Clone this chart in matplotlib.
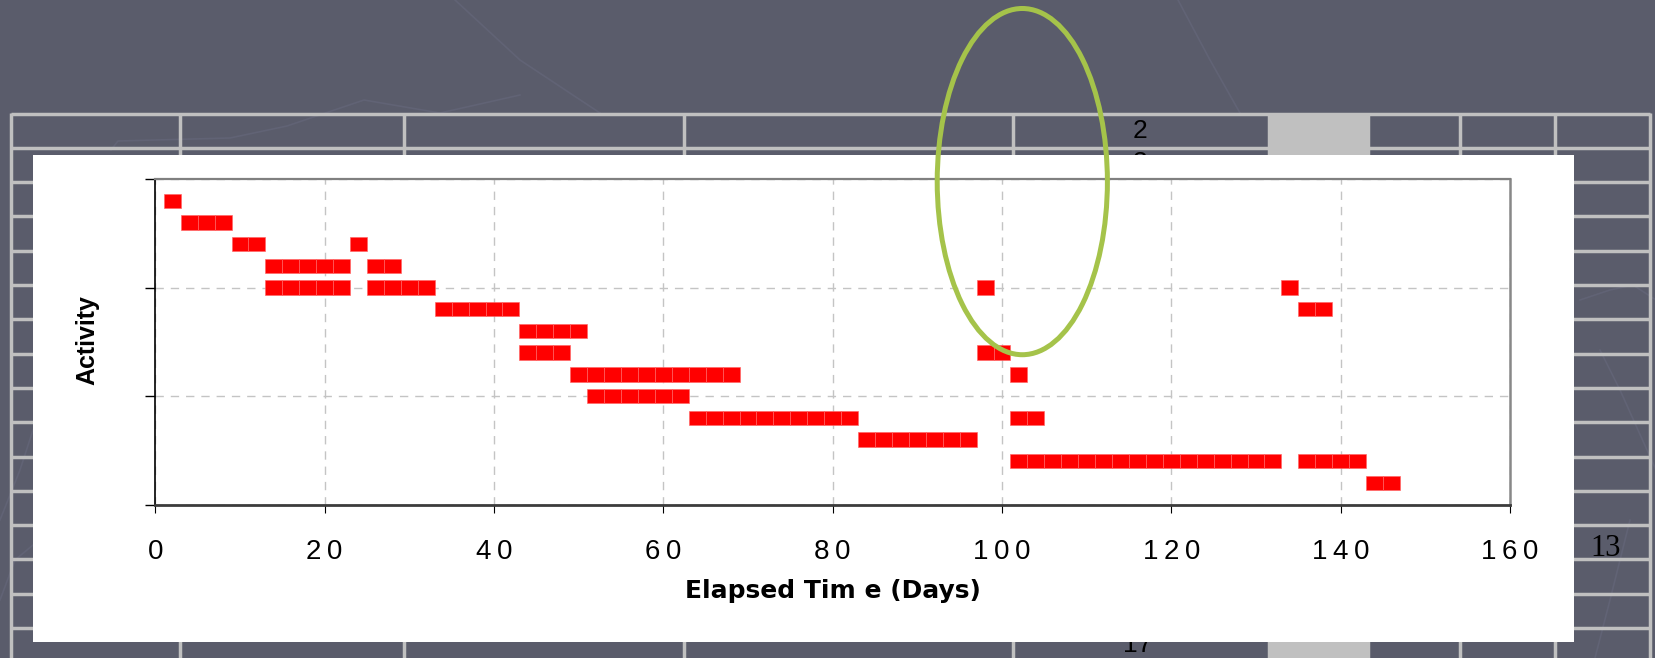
import matplotlib
matplotlib.use("Agg")
import matplotlib.pyplot as plt
from matplotlib.patches import Rectangle, Ellipse

# ---- schedule: one entry per bar (activity number, start day, finish day) ----
activity = [1, 2, 3, 3, 4, 4, 5, 5, 5, 5, 6, 6, 7, 8, 8, 9, 9, 10, 11, 11, 12, 13, 13, 14]
start_day = [1, 3, 9, 23, 13, 25, 13, 25, 97, 133, 33, 135, 43, 43, 97, 49, 101, 51, 63, 101, 83, 101, 135, 143]
finish_day = [3, 9, 13, 25, 23, 29, 23, 33, 99, 135, 43, 139, 51, 49, 101, 69, 103, 63, 83, 105, 97, 133, 143, 147]

x_ticks = [0, 20, 40, 60, 80, 100, 120, 140, 160]
x_tick_labels = ["0", "20", "40", "60", "80", "100", "120", "140", "160"]
y_ticks = [0, 5, 10, 15]

x_label = "Elapsed Tim e (Days)"
y_label = "Activity"

# highlighted region (days, activity units)
highlight_center = (102.4, 0.12)
highlight_size = (20.1, 15.95)

# ---- styling ----
W, H = 1656, 658
SLATE = "#5a5c6b"
TABLE_GRAY = "#c0c0c0"
RED = "#ff0000"
GREEN = "#a5c34a"
SEGMENT = 2  # bars are drawn in two-day blocks
THIN = "\u2009"

fig = plt.figure(figsize=(W / 100, H / 100), dpi=100, facecolor=SLATE)

# slide backdrop in pixel units
bg = fig.add_axes([0, 0, 1, 1], zorder=0)
bg.set_xlim(0, W)
bg.set_ylim(H, 0)
bg.axis("off")

# faint template swirls
swirl_color = "#616375"
swirls = [
    ([111, 118, 230, 287, 364, 440, 520], [150, 141, 138, 126, 100, 113, 95]),
    ([455, 520, 600], [0, 60, 113]),
    ([1178, 1210, 1240], [0, 60, 113]),
    ([1580, 1610, 1633, 1656], [300, 290, 285, 300]),
    ([1600, 1620, 1656], [350, 390, 470]),
    ([1595, 1610, 1630], [658, 600, 520]),
    ([0, 20, 33], [520, 470, 430]),
    ([0, 15, 33], [600, 560, 545]),
]
for sx, sy in swirls:
    bg.plot(sx, sy, color=swirl_color, lw=1.2, zorder=0.5)

# spreadsheet grid behind the chart
col_x = [10.7, 180, 404, 684, 1013, 1269, 1368, 1460, 1555, 1650]
row_top = 113.5
row_h = 34.3
row_y = [row_top + row_h * i for i in range(17)]
bg.add_patch(Rectangle((1269, row_top), 1368 - 1269, H - row_top, facecolor=TABLE_GRAY, edgecolor="none", zorder=1))
for y in row_y:
    bg.plot([col_x[0], col_x[-1]], [y, y], color=TABLE_GRAY, lw=2.5, zorder=1, solid_capstyle="butt")
for x in col_x:
    bg.plot([x, x], [row_top - 1, H], color=TABLE_GRAY, lw=2.5, zorder=1, solid_capstyle="butt")

# cell contents peeking out around the chart
bg.text(1140, 131, "2", fontsize=19, family="Liberation Sans", ha="center", va="center", color="black", zorder=2)
bg.text(1140, 163, "3", fontsize=19, family="Liberation Sans", ha="center", va="center", color="black", zorder=2)
bg.text(1138, 645, "17", fontsize=19, family="Liberation Sans", ha="center", va="center", color="black", zorder=2)
bg.text(1606, 548, "13", fontsize=22, family="Liberation Serif", ha="center", va="center", color="black", zorder=2)

# white chart panel
bg.add_patch(Rectangle((33.5, 155), 1573.6 - 33.5, 642 - 155, facecolor="white", edgecolor="none", zorder=3))

# ---- plot area ----
left_px, right_px, top_px, bottom_px = 155.3, 1510, 179, 504.6
ax = fig.add_axes([left_px / W, 1 - bottom_px / H, (right_px - left_px) / W, (bottom_px - top_px) / H], zorder=1)
ax.set_facecolor("white")
ax.set_xlim(0, 160)
ax.set_ylim(15, 0)

seg_y, seg_left, seg_w = [], [], []
for a, s, f in zip(activity, start_day, finish_day):
    d = s
    while d < f:
        seg_y.append(a)
        seg_left.append(d)
        seg_w.append(min(SEGMENT, f - d))
        d += SEGMENT
ax.barh(seg_y, seg_w, left=seg_left, height=0.66, color=RED, edgecolor="#ff6464", linewidth=0.45, zorder=3)

ax.set_axisbelow(True)
ax.set_xticks(x_ticks)
ax.set_xticklabels([THIN.join(t) for t in x_tick_labels],
                   fontfamily=["Liberation Sans", "DejaVu Sans"])
ax.set_yticks(y_ticks)
ax.set_yticklabels([])
ax.grid(True, color="#c4c4c4", linestyle=(0, (6, 5)), linewidth=1.0)

ax.tick_params(axis="x", direction="out", length=6, width=0.8, color="black", pad=19,
               labelsize=20, labelcolor="black")
ax.tick_params(axis="y", direction="out", length=7.5, width=1.0, color="black")

ax.spines["top"].set_color("#808080")
ax.spines["top"].set_linewidth(1.6)
ax.spines["right"].set_color("#888888")
ax.spines["right"].set_linewidth(1.8)
ax.spines["left"].set_color("black")
ax.spines["left"].set_linewidth(1.2)
ax.spines["bottom"].set_color("#3c3c3c")
ax.spines["bottom"].set_linewidth(2.0)

ax.set_xlabel(x_label, fontsize=18, fontweight="bold", family="DejaVu Sans")
ax.xaxis.set_label_coords(0.5, -0.228)
ax.set_ylabel(y_label, fontsize=18, fontweight="bold", family="Liberation Sans")
ax.yaxis.set_label_coords(-0.0413, 0.505)

# highlight ring
ax.add_patch(Ellipse(highlight_center, highlight_size[0], highlight_size[1], fill=False,
                     edgecolor=GREEN, linewidth=3.6, clip_on=False, zorder=10))

fig.savefig("out.png", dpi=100, facecolor=SLATE)
